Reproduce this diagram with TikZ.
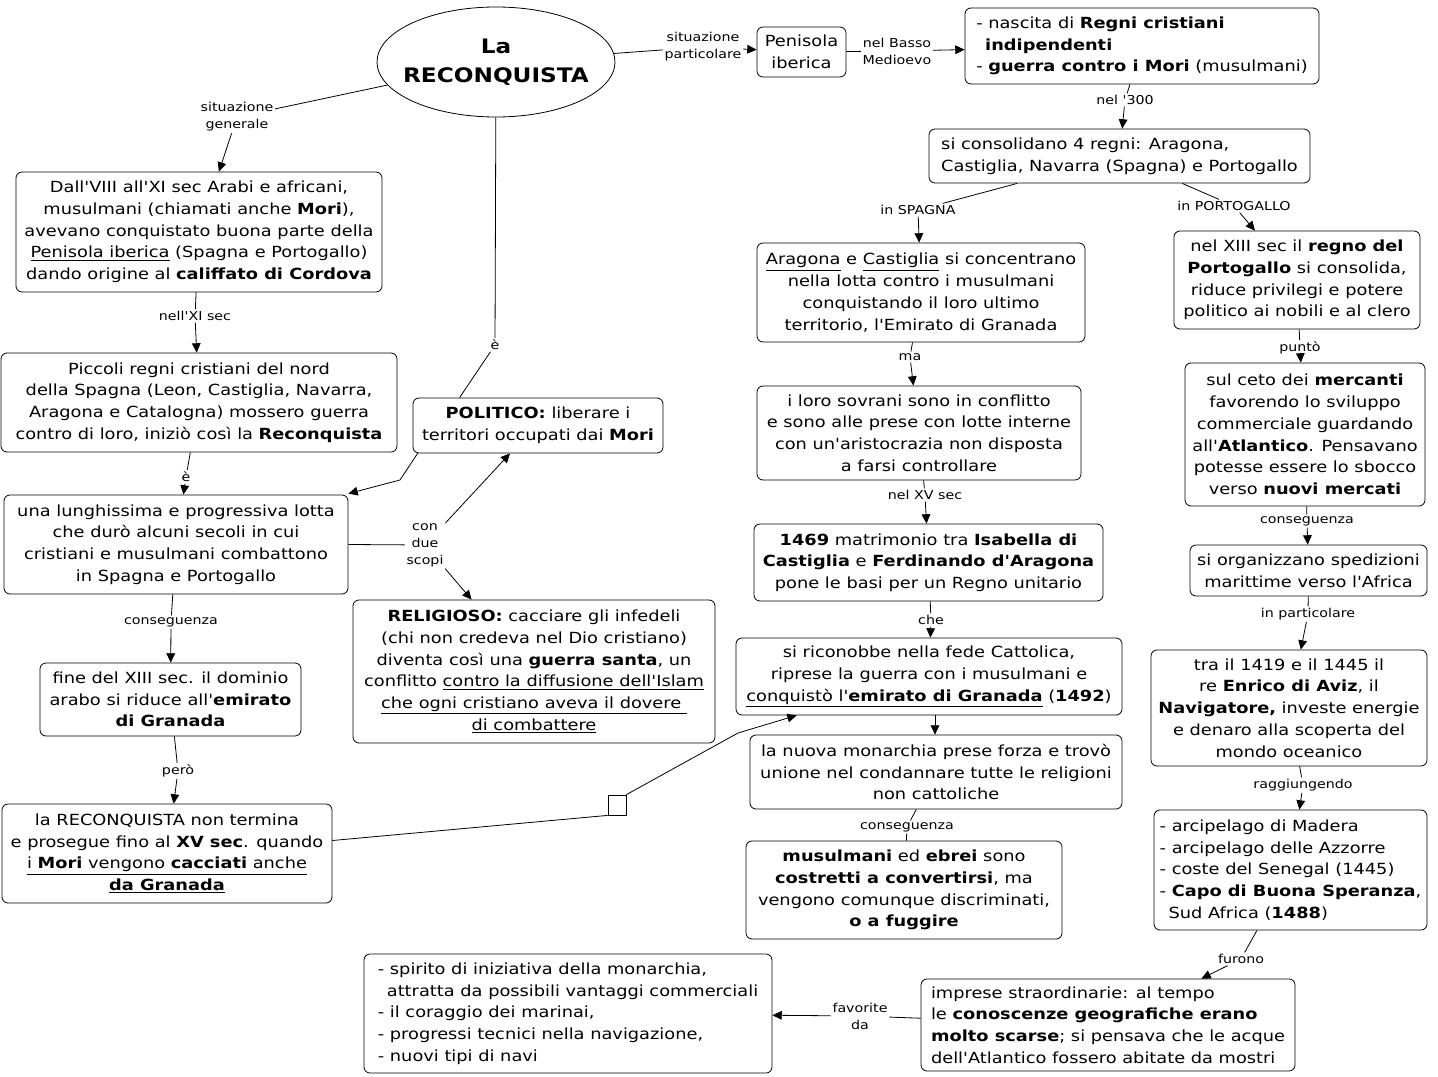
\documentclass[tikz,border=0pt]{standalone}
\usepackage{fontspec}
\setmainfont{DejaVu Sans}[Ligatures=TeXOff, FakeStretch=1.16]
\usetikzlibrary{arrows.meta,calc,shapes.geometric}
\tikzset{
  box/.style={draw, line width=0.6pt, rounded corners=4.5pt, inner sep=0pt, align=center,
    font=\fontsize{11.5}{16.3}\selectfont},
  lbox/.style={box, align=left},
  lab/.style={inner sep=1.2pt, align=center, font=\fontsize{9.2}{12.8}\selectfont},
  ln/.style={line width=0.6pt},
  arr/.style={line width=0.6pt, -{Triangle[length=7pt,width=6.5pt]}},
}
\begin{document}
\begin{tikzpicture}[x=0.75pt,y=-0.75pt]
\useasboundingbox (0,0) rectangle (1438,1077);
\fill[white] (0,0) rectangle (1438,1077);

% main ellipse
\node[draw, ln, ellipse, inner sep=0pt, minimum width=238*0.75pt, minimum height=110*0.75pt] (main) at (496,62) {};
\node[align=center, inner sep=0pt, font=\fontsize{15}{22}\bfseries] (maintext) at (main.center) {La\\RECONQUISTA};

% right column
\node[box, minimum width=89*0.75pt, minimum height=50*0.75pt] (pen) at (801.5,52) {Penisola\\iberica};
\node[lbox, minimum width=354*0.75pt, minimum height=76*0.75pt] (A) at (1142,46)
  {- nascita di \textbf{Regni cristiani}\\\phantom{-}\,\textbf{indipendenti}\\- \textbf{guerra contro i Mori} (musulmani)};
\node[lbox, minimum width=381*0.75pt, minimum height=54*0.75pt] (B) at (1119.5,156)
  {si consolidano 4 regni: Aragona,\\Castiglia, Navarra (Spagna) e Portogallo};
\node[box, minimum width=328*0.75pt, minimum height=99*0.75pt] (C) at (921,292.5)
  {\underline{Aragona} e \underline{Castiglia} si concentrano\\nella lotta contro i musulmani\\conquistando il loro ultimo\\territorio, l'Emirato di Granada};
\node[box, minimum width=324*0.75pt, minimum height=94*0.75pt] (D) at (919,433)
  {i loro sovrani sono in conflitto\\e sono alle prese con lotte interne\\con un'aristocrazia non disposta\\a farsi controllare};
\node[box, minimum width=349*0.75pt, minimum height=77*0.75pt] (E) at (928.5,562.5)
  {\textbf{1469} matrimonio tra \textbf{Isabella di}\\\textbf{Castiglia} e \textbf{Ferdinando d'Aragona}\\pone le basi per un Regno unitario};
\node[box, minimum width=386*0.75pt, minimum height=77*0.75pt] (F) at (929,676.5)
  {si riconobbe nella fede Cattolica,\\riprese la guerra con i musulmani e\\\underline{conquistò l'\textbf{emirato di Granada}} (\textbf{1492})};
\node[box, minimum width=372*0.75pt, minimum height=74*0.75pt] (G) at (936,772)
  {la nuova monarchia prese forza e trovò\\unione nel condannare tutte le religioni\\non cattoliche};
\node[box, minimum width=316*0.75pt, minimum height=98*0.75pt] (H) at (904,890)
  {\textbf{musulmani} ed \textbf{ebrei} sono\\\textbf{costretti a convertirsi}, ma\\vengono comunque discriminati,\\\textbf{o a fuggire}};

\node[box, minimum width=246*0.75pt, minimum height=98*0.75pt] (I) at (1297,280)
  {nel XIII sec il \textbf{regno del}\\\textbf{Portogallo} si consolida,\\riduce privilegi e potere\\politico ai nobili e al clero};
\node[box, minimum width=240*0.75pt, minimum height=143*0.75pt] (J) at (1305,434.5)
  {sul ceto dei \textbf{mercanti}\\favorendo lo sviluppo\\commerciale guardando\\all'\textbf{Atlantico}. Pensavano\\potesse essere lo sbocco\\verso \textbf{nuovi mercati}};
\node[box, minimum width=237*0.75pt, minimum height=51*0.75pt] (K) at (1308.5,570.5)
  {si organizzano spedizioni\\marittime verso l'Africa};
\node[box, minimum width=276*0.75pt, minimum height=116*0.75pt] (L) at (1289,708)
  {tra il 1419 e il 1445 il\\re \textbf{Enrico di Aviz}, il\\\textbf{Navigatore,} investe energie\\e denaro alla scoperta del\\mondo oceanico};
\node[lbox, minimum width=273*0.75pt, minimum height=120*0.75pt] (M) at (1290.5,870)
  {- arcipelago di Madera\\- arcipelago delle Azzorre\\- coste del Senegal (1445)\\- \textbf{Capo di Buona Speranza},\\\phantom{-}\,Sud Africa (\textbf{1488})};
\node[lbox, minimum width=374*0.75pt, minimum height=92*0.75pt] (N) at (1108,1025)
  {imprese straordinarie: al tempo\\le \textbf{conoscenze geografiche erano}\\\textbf{molto scarse}; si pensava che le acque\\dell'Atlantico fossero abitate da mostri};
\node[lbox, minimum width=408*0.75pt, minimum height=119*0.75pt] (O) at (568,1013.5)
  {- spirito di iniziativa della monarchia,\\\phantom{-}\,attratta da possibili vantaggi commerciali\\- il coraggio dei marinai,\\- progressi tecnici nella navigazione,\\- nuovi tipi di navi};

% left column
\node[box, minimum width=366*0.75pt, minimum height=120*0.75pt] (P) at (199,232)
  {Dall'VIII all'XI sec Arabi e africani,\\musulmani (chiamati anche \textbf{Mori}),\\avevano conquistato buona parte della\\\underline{Penisola iberica} (Spagna e Portogallo)\\dando origine al \textbf{califfato di Cordova}};
\node[box, minimum width=396*0.75pt, minimum height=99*0.75pt] (Q) at (199,402.5)
  {Piccoli regni cristiani del nord\\della Spagna (Leon, Castiglia, Navarra,\\Aragona e Catalogna) mossero guerra\\contro di loro, iniziò così la \textbf{Reconquista}};
\node[box, minimum width=250*0.75pt, minimum height=55*0.75pt] (R) at (538,425.5)
  {\textbf{POLITICO:} liberare i\\territori occupati dai \textbf{Mori}};
\node[box, minimum width=344*0.75pt, minimum height=99*0.75pt] (S) at (176,544.5)
  {una lunghissima e progressiva lotta\\che durò alcuni secoli in cui\\cristiani e musulmani combattono\\in Spagna e Portogallo};
\node[box, minimum width=362*0.75pt, minimum height=143*0.75pt] (T) at (534,671.5)
  {\textbf{RELIGIOSO:} cacciare gli infedeli\\(chi non credeva nel Dio cristiano)\\diventa così una \textbf{guerra santa}, un\\conflitto \underline{contro la diffusione dell'Islam}\\\underline{che ogni cristiano aveva il dovere\ }\\\underline{di combattere}};
\node[box, minimum width=261*0.75pt, minimum height=73*0.75pt] (U) at (170.5,699.5)
  {fine del XIII sec. il dominio\\arabo si riduce all'\textbf{emirato}\\\textbf{di Granada}};
\node[box, minimum width=330*0.75pt, minimum height=99*0.75pt] (V) at (167,853.5)
  {la RECONQUISTA non termina\\e prosegue fino al \textbf{XV sec}. quando\\\underline{i \textbf{Mori} vengono \textbf{cacciati} anche}\\\underline{\textbf{da Granada}}};
\node[draw, ln, inner sep=0pt, minimum width=18*0.75pt, minimum height=20*0.75pt] (sq) at (617,805) {};

% labels
\node[lab] (l1) at (703,47) {situazione\\particolare};
\node[lab] (l2) at (897,51) {nel Basso\\Medioevo};
\node[lab] (l3) at (1125,100) {nel '300};
\node[lab] (l4) at (918,210) {in SPAGNA};
\node[lab] (l5) at (1234,206) {in PORTOGALLO};
\node[lab] (l6) at (910,357) {ma};
\node[lab] (l7) at (925,495) {nel XV sec};
\node[lab] (l8) at (931,620) {che};
\node[lab] (l9) at (907,827) {conseguenza};
\node[lab] (l10) at (1300,348) {puntò};
\node[lab] (l11) at (1307,521) {conseguenza};
\node[lab] (l12) at (1308,614) {in particolare};
\node[lab] (l13) at (1303,785) {raggiungendo};
\node[lab] (l14) at (1241,959) {furono};
\node[lab] (l15) at (860,1016) {favorite\\da};
\node[lab] (l16) at (237,117) {situazione\\generale};
\node[lab] (l17) at (195,316) {nell'XI sec};
\node[lab] (l18) at (186,477) {è};
\node[lab] (l19) at (495,345) {è};
\node[lab] (l20) at (425,545) {con\\due\\scopi};
\node[lab] (l21) at (171,622) {conseguenza};
\node[lab] (l22) at (178,771) {però};

% connectors
\draw[ln] (main) -- (l1); \draw[arr] (l1) -- (pen);
\draw[ln] (pen) -- (l2); \draw[arr] (l2) -- (A);
\draw[ln] (A) -- (l3); \draw[arr] (l3) -- (B);
\draw[ln] (B) -- (l4); \draw[arr] (l4) -- (C);
\draw[ln] (B) -- (l5); \draw[arr] (l5) -- (I);
\draw[ln] (C) -- (l6); \draw[arr] (l6) -- (D);
\draw[ln] (D) -- (l7); \draw[arr] (l7) -- (E);
\draw[ln] (E) -- (l8); \draw[arr] (l8) -- (F);
\draw[arr] ($(F.south)+(6,0)$) -- ($(G.north)+(-1,0)$);
\draw[ln] (G) -- (l9) -- (H);
\draw[ln] (I) -- (l10); \draw[arr] (l10) -- (J);
\draw[ln] (J) -- (l11); \draw[arr] (l11) -- (K);
\draw[ln] (K) -- (l12); \draw[arr] (l12) -- (L);
\draw[ln] (L) -- (l13); \draw[arr] (l13) -- (M);
\draw[ln] (M) -- (l14); \draw[arr] (l14) -- (N);
\draw[ln] (N) -- (l15); \draw[arr] (l15) -- (O);

\draw[ln] (main) -- (l16); \draw[arr] (l16) -- (P);
\draw[ln] (P) -- (l17); \draw[arr] (l17) -- (Q);
\draw[ln] (Q) -- (l18); \draw[arr] (l18) -- (S);
\draw[ln] (main) -- (l19) -- ($(R.north west)+(47,0)$);
\coordinate (b1) at (400,480);
\draw[arr] ($(R.south west)+(5,0)$) -- (b1) -- ($(S.north east)+(0,-1)$);
\draw[ln] (S.east) -- (l20);
\draw[arr] (l20) -- ($(R.south)+(-28,0)$);
\draw[arr] (l20) -- ($(T.north west)+(119,0)$);
\draw[ln] (S) -- (l21); \draw[arr] (l21) -- (U);
\draw[ln] (U) -- (l22); \draw[arr] (l22) -- (V);
\coordinate (b2) at (738,733);
\draw[ln] ($(V.east)+(0,-13)$) -- (sq.south west);
\draw[arr] (sq.north east) -- (b2) -- ($(F.south west)+(61,0)$);
\end{tikzpicture}
\end{document}
